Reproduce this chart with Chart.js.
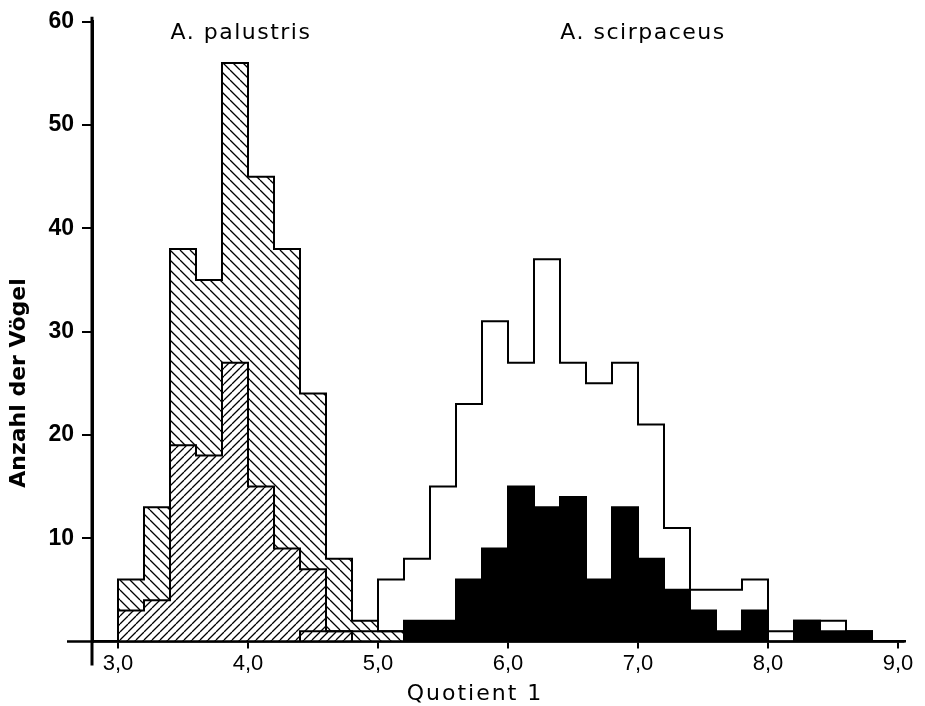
<!DOCTYPE html>
<html>
<head>
<meta charset="utf-8">
<script src="https://cdn.jsdelivr.net/npm/chart.js@4.4.1/dist/chart.umd.min.js"></script>
<style>
  html, body { margin: 0; padding: 0; background: #fff; }
  #wrap { width: 925px; height: 706px; position: relative; }
</style>
</head>
<body>
<div id="wrap"><canvas id="c"></canvas></div>
<script>
// ---- data (histogram bins of width 0.2, starting at the values below) ----
const binStarts = [3.0, 3.2, 3.4, 3.6, 3.8, 4.0, 4.2, 4.4, 4.6, 4.8,
                   5.0, 5.2, 5.4, 5.6, 5.8, 6.0, 6.2, 6.4, 6.6, 6.8,
                   7.0, 7.2, 7.4, 7.6, 7.8, 8.0, 8.2, 8.4, 8.6, 8.8];
const binWidth = 0.2;

// A. palustris, all birds (hatched "\\")
const palustrisAll  = [6, 13, 38, 35, 56, 45, 38, 24, 8, 2,
                       1, 0, 0, 0, 0, 0, 0, 0, 0, 0,
                       0, 0, 0, 0, 0, 0, 0, 0, 0, 0];
// A. palustris, subgroup (hatched "//")
const palustrisPart = [3, 4, 19, 18, 27, 15, 9, 7, 1, 0,
                       0, 0, 0, 0, 0, 0, 0, 0, 0, 0,
                       0, 0, 0, 0, 0, 0, 0, 0, 0, 0];
// narrow band of single birds in the overlap zone (outlined)
const overlapBand   = [0, 0, 0, 0, 0, 0, 0, 1, 1, 1,
                       1, 0, 0, 0, 0, 0, 0, 0, 0, 0,
                       0, 0, 0, 0, 0, 0, 0, 0, 0, 0];
// A. scirpaceus, all birds (white)
const scirpaceusAll  = [0, 0, 0, 0, 0, 0, 0, 0, 0, 0,
                        6, 8, 15, 23, 31, 27, 37, 27, 25, 27,
                        21, 11, 5, 5, 6, 1, 2, 2, 1, 0];
// A. scirpaceus, subgroup (black)
const scirpaceusPart = [0, 0, 0, 0, 0, 0, 0, 0, 0, 0,
                        0, 2, 2, 6, 9, 15, 13, 14, 6, 13,
                        8, 5, 3, 1, 3, 0, 2, 1, 1, 0];

const xTickValues = [3, 4, 5, 6, 7, 8, 9];
const xTickLabels = ['3,0', '4,0', '5,0', '6,0', '7,0', '8,0', '9,0'];
const yTickValues = [10, 20, 30, 40, 50, 60];
const speciesLabels = ['A. palustris', 'A. scirpaceus'];
const xTitle = 'Quotient 1';
const yTitle = 'Anzahl der Vögel';

// ---- helpers ----
function steps(values) {
  const first = values.findIndex(v => v > 0);
  let last = values.length - 1;
  while (last > 0 && !(values[last] > 0)) last--;
  const pts = [{ x: binStarts[first], y: 0 }];
  for (let i = first; i <= last; i++) pts.push({ x: binStarts[i], y: values[i] });
  pts.push({ x: binStarts[last] + binWidth, y: 0 });
  return pts;
}

function hatch(dir, period, lw) {
  const c = document.createElement('canvas');
  c.width = period; c.height = period;
  const g = c.getContext('2d');
  g.fillStyle = '#fff';
  g.fillRect(0, 0, period, period);
  g.strokeStyle = '#000';
  g.lineWidth = lw;
  g.beginPath();
  for (let k = -1; k <= 1; k++) {
    const o = k * period;
    if (dir === 'back') { g.moveTo(o, 0); g.lineTo(o + period, period); }
    else { g.moveTo(o, period); g.lineTo(o + period, 0); }
  }
  g.stroke();
  return g.createPattern(c, 'repeat');
}

const lineBase = {
  stepped: true,
  pointRadius: 0,
  pointHoverRadius: 0,
  borderColor: '#000',
  borderWidth: 2,
  borderJoinStyle: 'miter',
  tension: 0
};

const decor = {
  id: 'decor',
  afterDraw(chart, args, o) {
    const { ctx, chartArea: a, scales: { y } } = chart;
    ctx.save();
    ctx.strokeStyle = '#000';
    ctx.lineWidth = 3;
    ctx.beginPath();
    ctx.moveTo(a.left, y.getPixelForValue(60) - 5);
    ctx.lineTo(a.left, a.bottom + 24);
    ctx.stroke();
    ctx.lineWidth = 2.5;
    ctx.beginPath();
    ctx.moveTo(a.left - 25, a.bottom);
    ctx.lineTo(a.right, a.bottom);
    ctx.stroke();

    ctx.fillStyle = '#000';
    // species labels
    ctx.font = '22px "DejaVu Sans"';
    ctx.letterSpacing = '1.5px';
    ctx.textAlign = 'center';
    ctx.textBaseline = 'alphabetic';
    ctx.fillText(speciesLabels[0], o.label1X, o.labelY);
    ctx.fillText(speciesLabels[1], o.label2X, o.labelY);
    // x title
    ctx.font = '22px "DejaVu Sans"';
    ctx.letterSpacing = '2px';
    ctx.fillText(xTitle, o.xTitleX, o.xTitleY);
    // y title
    ctx.font = 'bold 22px "DejaVu Sans"';
    ctx.letterSpacing = '0px';
    ctx.translate(o.yTitleX, o.yTitleY);
    ctx.rotate(-Math.PI / 2);
    ctx.fillText(yTitle, 0, 0);
    ctx.restore();
  }
};

new Chart(document.getElementById('c'), {
  type: 'line',
  data: {
    datasets: [
      { ...lineBase, label: 'Überlappung', data: steps(overlapBand), fill: false, order: 0 },
      { ...lineBase, label: 'A. palustris (Teil)', data: steps(palustrisPart), fill: 'origin',
        backgroundColor: hatch('fwd', 8, 1.3), order: 1 },
      { ...lineBase, label: 'A. palustris', data: steps(palustrisAll), fill: 'origin',
        backgroundColor: hatch('back', 10, 1.3), order: 2 },
      { ...lineBase, label: 'A. scirpaceus (Teil)', data: steps(scirpaceusPart), fill: 'origin',
        backgroundColor: '#000', order: 3 },
      { ...lineBase, label: 'A. scirpaceus', data: steps(scirpaceusAll), fill: 'origin',
        backgroundColor: '#fff', order: 4 }
    ]
  },
  options: {
    responsive: true,
    maintainAspectRatio: false,
    animation: false,
    devicePixelRatio: 1,
    layout: { padding: { top: 18, right: 20.5, left: 0, bottom: 0 } },
    plugins: {
      legend: { display: false },
      tooltip: { enabled: false },
      decor: { label1X: 241, label2X: 643, labelY: 39, xTitleX: 475, xTitleY: 700, yTitleX: 25, yTitleY: 383 }
    },
    scales: {
      x: {
        type: 'linear',
        min: 2.8,
        max: 9.05,
        afterFit: s => { s.height = 64.5; },
        afterBuildTicks: s => { s.ticks = xTickValues.map(v => ({ value: v })); },
        grid: { drawOnChartArea: false, drawTicks: true, tickLength: 7, color: '#000', lineWidth: 2 },
        border: { display: true, color: '#000', width: 2.5 },
        ticks: {
          autoSkip: false, maxRotation: 0, padding: 2, color: '#000',
          font: { family: 'Liberation Sans', size: 22 },
          callback: (v, i) => xTickLabels[i]
        }
      },
      y: {
        type: 'linear',
        min: 0,
        max: 60,
        afterFit: s => { s.width = 92; },
        afterBuildTicks: s => { s.ticks = yTickValues.map(v => ({ value: v })); },
        grid: { drawOnChartArea: false, drawTicks: true, tickLength: 10, color: '#000', lineWidth: 2 },
        border: { display: true, color: '#000', width: 3 },
        ticks: {
          padding: 8, color: '#000',
          font: { family: 'Liberation Sans', size: 23, weight: 'bold' },
          callback: v => String(v)
        }
      }
    }
  },
  plugins: [decor]
});
</script>
</body>
</html>
